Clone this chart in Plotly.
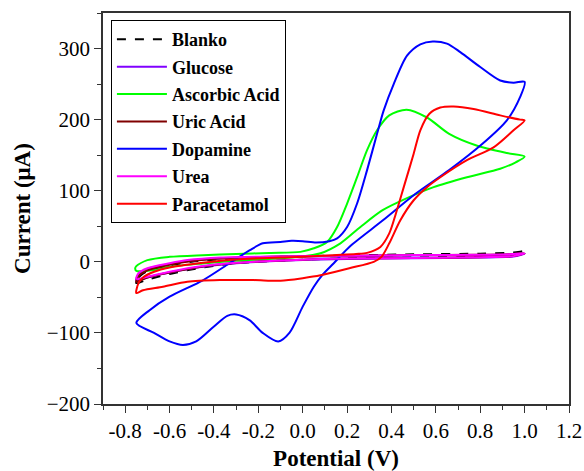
import plotly.graph_objects as go

# ---- data (Potential in V, Current in uA) ----
blanko_x = [-0.75, -0.74, -0.70, -0.60, -0.50, -0.35, -0.10, 0.20, 0.50, 0.80, 0.95, 1.00,
            0.95, 0.80, 0.50, 0.20, 0.00, -0.30, -0.45, -0.60, -0.70, -0.75]
blanko_y = [-30, -22, -13, -5, 0, 4, 7, 9, 10.5, 11.5, 13, 15,
            9, 7, 6, 5, 3, -2, -8, -17, -25, -30]

glucose_x = [-0.75, -0.74, -0.70, -0.60, -0.50, -0.35, -0.10, 0.20, 0.50, 0.80, 0.95, 1.00,
             0.95, 0.80, 0.50, 0.20, 0.00, -0.30, -0.45, -0.60, -0.70, -0.75]
glucose_y = [-26, -18, -10, -3, 1.5, 5, 7, 8, 9, 9.5, 10.5, 11.5,
             7.5, 6, 5, 4, 2.5, -2, -7, -15, -22, -26]

ascorbic_x = [-0.755, -0.75, -0.70, -0.60, -0.45, -0.30, -0.15, -0.01, 0.05, 0.11, 0.155, 0.20,
              0.245, 0.29, 0.335, 0.39, 0.468, 0.56, 0.66, 0.78, 0.92, 1.00,
              0.96, 0.89, 0.74, 0.59, 0.48, 0.36, 0.26, 0.17, 0.08, -0.01, -0.15, -0.30,
              -0.45, -0.60, -0.67, -0.75, -0.755]
ascorbic_y = [-9, -6, 2.4, 7, 9.4, 11, 12.5, 14, 19, 28, 49, 82,
              119, 157, 185, 206, 214, 203, 180, 164, 153, 148,
              140, 131, 119, 105, 91, 72.6, 49, 26, 12, 7, 4, 1.4,
              -2.3, -7, -11.6, -12.6, -9]

uric_x = [-0.75, -0.74, -0.70, -0.60, -0.50, -0.35, -0.10, 0.20, 0.50, 0.80, 0.95, 1.00,
          0.95, 0.80, 0.50, 0.20, 0.00, -0.30, -0.45, -0.60, -0.70, -0.75]
uric_y = [-28, -20, -12, -4, 1, 5, 7.5, 8.5, 9.5, 10, 11, 12,
          8, 6.5, 5.5, 4.5, 3, -1.5, -6.5, -15, -22, -28]

dopamine_x = [-0.75, -0.69, -0.60, -0.45, -0.33, -0.24, -0.18, -0.10, -0.05, 0.00, 0.06, 0.12,
              0.155, 0.20, 0.245, 0.29, 0.335, 0.365, 0.41, 0.47, 0.53, 0.586, 0.65, 0.71,
              0.80, 0.89, 0.95, 1.00,
              0.98, 0.92, 0.81, 0.66, 0.51, 0.36, 0.21, 0.14, 0.09, 0.05, 0.00, -0.06,
              -0.11, -0.18, -0.24, -0.30, -0.34, -0.40, -0.48, -0.54, -0.60, -0.67, -0.75]
dopamine_y = [-86, -68, -49, -26, -2, 16, 26, 28, 29.5, 29, 27, 29,
              33, 49, 82, 129, 180, 213, 250, 290, 306, 310, 307, 295,
              274, 255, 252, 253,
              232, 199, 166, 129, 96, 58, 21, -2, -18, -35, -63, -100,
              -112, -100, -82, -74, -76, -91, -112, -117, -112, -100, -86]

urea_x = [-0.75, -0.74, -0.70, -0.60, -0.52, -0.37, -0.10, 0.20, 0.50, 0.80, 0.95, 1.00,
          0.95, 0.80, 0.50, 0.20, 0.00, -0.30, -0.45, -0.60, -0.70, -0.75]
urea_y = [-24, -16, -9, -2, 2.4, 6, 7.5, 8.5, 9.5, 10, 11, 12,
          8, 6.5, 5.5, 4.5, 3, -1.4, -6, -14, -21, -24]

paracetamol_x = [-0.75, -0.74, -0.72, -0.67, -0.60, -0.45, -0.30, -0.10, 0.00, 0.14, 0.24, 0.29,
                 0.35, 0.39, 0.42, 0.46, 0.50, 0.53, 0.57, 0.62, 0.68, 0.77, 0.89, 0.98, 1.00,
                 0.95, 0.86, 0.74, 0.62, 0.56, 0.50, 0.44, 0.39, 0.355, 0.32, 0.21, 0.08, 0.00,
                 -0.10, -0.22, -0.37, -0.52, -0.63, -0.72, -0.75]
paracetamol_y = [-44, -30, -22, -14, -8, -1.4, 3.3, 6, 7, 9.4, 11, 12.6,
                 21, 40, 68, 110, 152, 185, 208, 217, 218.5, 215, 206, 200, 199,
                 185, 161, 143, 119, 105, 86.6, 58.5, 26, 7, 0, -9, -19, -23,
                 -26.6, -25.7, -25.7, -28, -35, -40, -44]

x_ticks = [-0.8, -0.6, -0.4, -0.2, 0.0, 0.2, 0.4, 0.6, 0.8, 1.0, 1.2]
x_ticktext = ["-0.8", "-0.6", "-0.4", "-0.2", "0.0", "0.2", "0.4", "0.6", "0.8", "1.0", "1.2"]
y_ticks = [-200, -100, 0, 100, 200, 300]

series = [
    ("Blanko", blanko_x, blanko_y, "#000000", "dash"),
    ("Glucose", glucose_x, glucose_y, "#8000FF", "solid"),
    ("Ascorbic Acid", ascorbic_x, ascorbic_y, "#00FF00", "solid"),
    ("Uric Acid", uric_x, uric_y, "#800000", "solid"),
    ("Dopamine", dopamine_x, dopamine_y, "#0000FF", "solid"),
    ("Urea", urea_x, urea_y, "#FF00FF", "solid"),
    ("Paracetamol", paracetamol_x, paracetamol_y, "#FF0000", "solid"),
]

FONT = "Liberation Serif"

fig = go.Figure()
for i, (name, xs, ys, col, dash) in enumerate(series):
    fig.add_trace(go.Scatter(
        x=xs, y=ys, mode="lines", name=name, legendgroup=f"g{i}",
        line=dict(color=col, width=2, dash=dash, shape="spline", smoothing=0.8),
    ))

axis_common = dict(
    showline=True, linecolor="#333333", linewidth=1.5, mirror=True,
    showgrid=False, zeroline=False, ticks="outside", ticklen=7, tickwidth=1.2,
    tickcolor="#333333", automargin=False,
    tickfont=dict(family=FONT, size=21, color="black"),
)

fig.update_layout(
    width=584, height=471,
    margin=dict(l=103, r=15, t=13, b=67),
    paper_bgcolor="white", plot_bgcolor="white",
    font=dict(family=FONT, color="black"),
    showlegend=True,
    legend=dict(
        x=0.017, y=0.982, xanchor="left", yanchor="top",
        bordercolor="black", borderwidth=1, bgcolor="white",
        font=dict(family=FONT, size=18, color="black", weight="bold"),
        tracegroupgap=1, itemwidth=50,
    ),
    xaxis=dict(
        range=[-0.9, 1.2], tickvals=x_ticks, ticktext=x_ticktext,
        minor=dict(dtick=0.1, tick0=0, ticks="outside", ticklen=4, tickcolor="#333333", showgrid=False),
        title=dict(text="<b>Potential (V)</b>", font=dict(family=FONT, size=23), standoff=8),
        **axis_common,
    ),
    yaxis=dict(
        range=[-200, 350], tickvals=y_ticks,
        minor=dict(dtick=50, tick0=0, ticks="outside", ticklen=4, tickcolor="#333333", showgrid=False),
        title=dict(text="<b>Current (μA)</b>", font=dict(family=FONT, size=23), standoff=10),
        **axis_common,
    ),
)

fig.write_html("out.html")
